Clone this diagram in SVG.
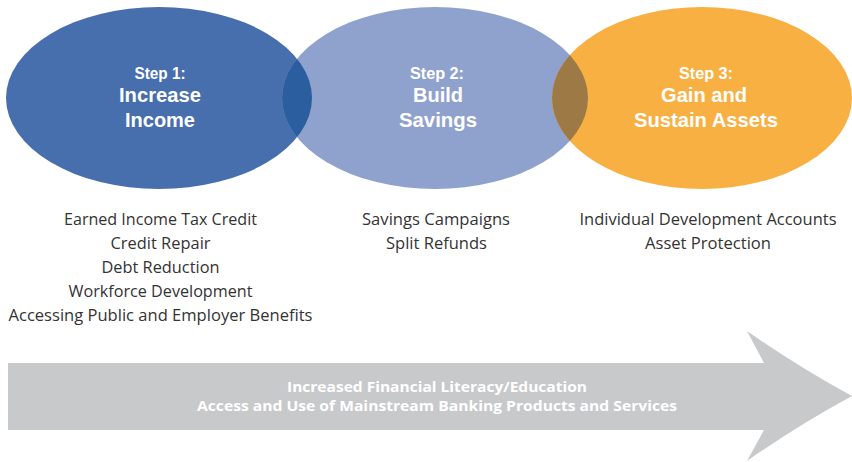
<svg xmlns="http://www.w3.org/2000/svg" width="852" height="462" viewBox="0 0 852 462">
  <style>
    .title-sm { font-family: "Liberation Sans", Arial, sans-serif; font-weight: 700; font-size: 16px; fill: #ffffff; text-anchor: middle; }
    .title-lg { font-family: "Liberation Sans", Arial, sans-serif; font-weight: 700; font-size: 21px; fill: #ffffff; text-anchor: middle; }
    .item { font-family: "Open Sans", "DejaVu Sans", sans-serif; font-size: 15.5px; fill: #333333; text-anchor: middle; }
    .band { font-family: "Open Sans", "DejaVu Sans", sans-serif; font-weight: 700; font-size: 15px; fill: #ffffff; text-anchor: middle; }
  </style>
  <defs>
    <clipPath id="clip-e1">
      <ellipse cx="159" cy="98" rx="153" ry="91"/>
    </clipPath>
    <clipPath id="clip-e3">
      <ellipse cx="702" cy="98" rx="150" ry="91"/>
    </clipPath>
  </defs>

  <rect width="852" height="462" fill="#ffffff"/>

  <!-- Step 1 -->
  <g id="step1">
    <ellipse cx="159" cy="98" rx="153" ry="91" fill="#476EAD"/>
  </g>

  <!-- Step 2 -->
  <g id="step2">
    <ellipse cx="435" cy="98" rx="153" ry="91" fill="#8FA2CD"/>
  </g>

  <!-- Step 3 -->
  <g id="step3">
    <ellipse cx="702" cy="98" rx="150" ry="91" fill="#F9B042"/>
  </g>

  <!-- lens shapes where neighbouring steps overlap -->
  <g id="overlaps">
    <ellipse cx="435" cy="98" rx="153" ry="91" fill="#2B5E9F" clip-path="url(#clip-e1)"/>
    <ellipse cx="435" cy="98" rx="153" ry="91" fill="#9D7946" clip-path="url(#clip-e3)"/>
  </g>

  <!-- step titles -->
  <g id="step1-label">
    <text class="title-sm" x="160" y="79" textLength="51" lengthAdjust="spacingAndGlyphs">Step 1:</text>
    <text class="title-lg" x="160" y="102" textLength="82" lengthAdjust="spacingAndGlyphs">Increase</text>
    <text class="title-lg" x="160" y="127" textLength="70" lengthAdjust="spacingAndGlyphs">Income</text>
  </g>
  <g id="step2-label">
    <text class="title-sm" x="437" y="79" textLength="54" lengthAdjust="spacingAndGlyphs">Step 2:</text>
    <text class="title-lg" x="438" y="102" textLength="50" lengthAdjust="spacingAndGlyphs">Build</text>
    <text class="title-lg" x="438" y="127" textLength="78" lengthAdjust="spacingAndGlyphs">Savings</text>
  </g>
  <g id="step3-label">
    <text class="title-sm" x="706" y="79" textLength="54" lengthAdjust="spacingAndGlyphs">Step 3:</text>
    <text class="title-lg" x="704" y="102" textLength="86" lengthAdjust="spacingAndGlyphs">Gain and</text>
    <text class="title-lg" x="706" y="127" textLength="144" lengthAdjust="spacingAndGlyphs">Sustain Assets</text>
  </g>

  <!-- activities under each step -->
  <g id="step1-items">
    <text class="item" x="160.5" y="225" textLength="193" lengthAdjust="spacingAndGlyphs">Earned Income Tax Credit</text>
    <text class="item" x="160.5" y="249" textLength="100" lengthAdjust="spacingAndGlyphs">Credit Repair</text>
    <text class="item" x="160.5" y="273" textLength="118" lengthAdjust="spacingAndGlyphs">Debt Reduction</text>
    <text class="item" x="160.5" y="297" textLength="184" lengthAdjust="spacingAndGlyphs">Workforce Development</text>
    <text class="item" x="160.5" y="321" textLength="304" lengthAdjust="spacingAndGlyphs">Accessing Public and Employer Benefits</text>
  </g>
  <g id="step2-items">
    <text class="item" x="436" y="225" textLength="148" lengthAdjust="spacingAndGlyphs">Savings Campaigns</text>
    <text class="item" x="436.5" y="249" textLength="101" lengthAdjust="spacingAndGlyphs">Split Refunds</text>
  </g>
  <g id="step3-items">
    <text class="item" x="708" y="225" textLength="257" lengthAdjust="spacingAndGlyphs">Individual Development Accounts</text>
    <text class="item" x="708" y="249" textLength="126" lengthAdjust="spacingAndGlyphs">Asset Protection</text>
  </g>

  <!-- foundation band -->
  <g id="connectors">
    <path id="foundation-arrow" fill="#C8C9CB"
          d="M8 363 H764 L747 331 Q800 368 852 396 Q800 424 747 461 L764 430 H8 Z"/>
  </g>
  <g id="foundation-label">
    <text class="band" x="437" y="392" textLength="300" lengthAdjust="spacingAndGlyphs">Increased Financial Literacy/Education</text>
    <text class="band" x="437" y="411" textLength="480" lengthAdjust="spacingAndGlyphs">Access and Use of Mainstream Banking Products and Services</text>
  </g>
</svg>
